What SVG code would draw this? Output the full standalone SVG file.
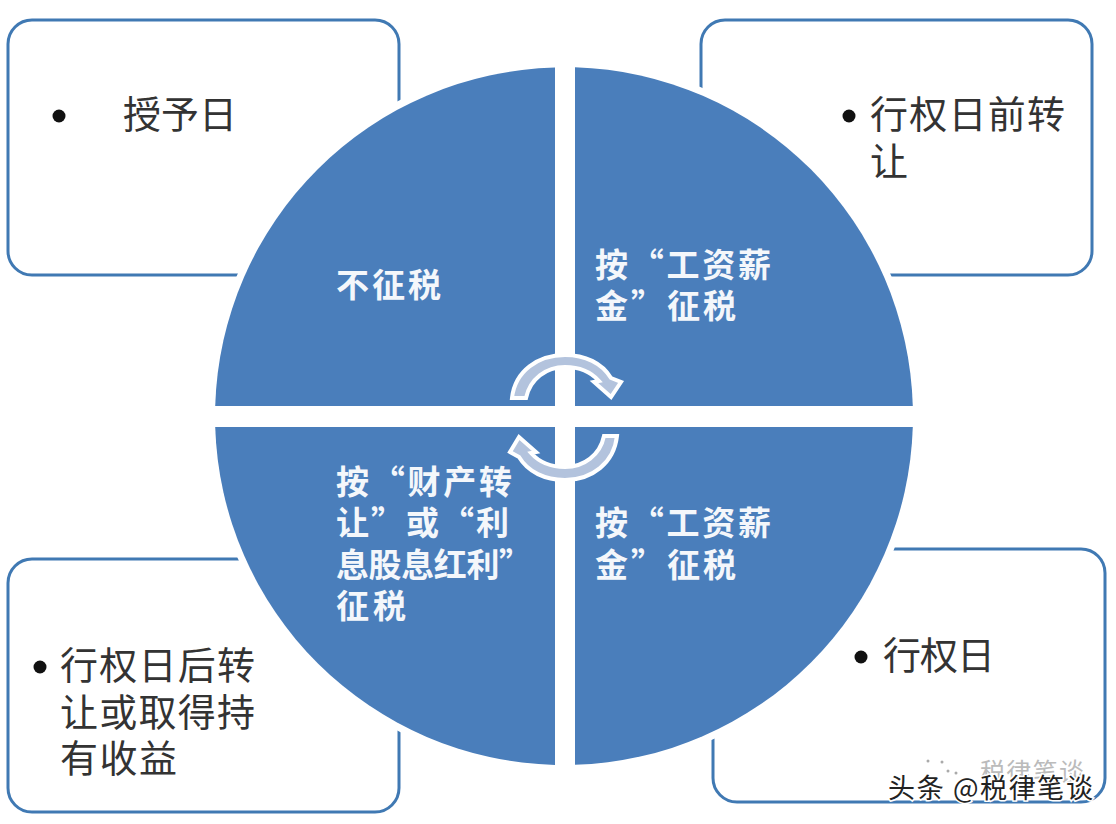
<svg xmlns="http://www.w3.org/2000/svg" width="1116" height="824" viewBox="0 0 1116 824">
<style>
.box{fill:#fff;stroke:#4079b3;stroke-width:3}
.q{fill:#4a7ebb}
.t{font-family:"Noto Sans CJK SC","Liberation Sans",sans-serif;font-size:38px;fill:#333}
.w{font-family:"Noto Sans CJK SC","Liberation Sans",sans-serif;font-size:33px;font-weight:700;fill:#f4f7fb}
.b{fill:#111}
.arrow{fill:#b3c3dd;stroke:#fff;stroke-width:4;stroke-linejoin:miter}
.m{font-family:"Noto Sans CJK SC","Liberation Sans",sans-serif;font-size:27px;fill:#222;stroke:#fff;stroke-width:3;paint-order:stroke}
.m2{font-family:"Noto Sans CJK SC","Liberation Sans",sans-serif;font-size:25px;fill:#bbb}
.dot{fill:#aaa}
</style>
<rect width="1116" height="824" fill="#fff"/>
<g id="box-tl"><rect class="box" x="8" y="20" width="391" height="255" rx="24"/></g>
<g id="box-tr"><rect class="box" x="701" y="20" width="391" height="255" rx="24"/></g>
<g id="box-bl"><rect class="box" x="8" y="559" width="391" height="253" rx="24"/></g>
<g id="box-br"><rect class="box" x="713" y="549" width="392" height="253" rx="24"/></g>
<circle cx="564" cy="416" r="356" fill="#fff"/>
<g id="quad-tl"><path class="q" d="M555 67.6V406H215.2A349 349 0 0 1 555 67.6Z"/></g>
<g id="quad-tr"><path class="q" d="M575 67.2V406H912.8A349 349 0 0 0 575 67.2Z"/></g>
<g id="quad-bl"><path class="q" d="M555 427V764.9A349 349 0 0 1 215.2 427Z"/></g>
<g id="quad-br"><path class="q" d="M575 427V764.8A349 349 0 0 0 912.8 427Z"/></g>
<g id="connectors">
<path class="arrow" d="M512 398C515 371 538 355 565 355C585 355 602 363 611 378L621 382L611 397L594 382L599 381C591 372 579 367 565 367C546 367 530 379 526 398Z"/>
<path class="arrow" d="M617 436C614 463 592 480 565 480C545 480 528 472 519 457L510 452L519 437L536 452L531 453C539 462 551 467 565 467C584 467 600 455 604 436Z"/>
</g>
<g id="label-tl"><circle class="b" cx="59" cy="116" r="6.5"/><text class="t" x="123" y="128" textLength="114">授予日</text></g>
<g id="label-tr"><circle class="b" cx="849" cy="116" r="6.5"/><text class="t" x="870" y="128" textLength="195">行权日前转</text><text class="t" x="870" y="175">让</text></g>
<g id="label-bl"><circle class="b" cx="40" cy="667" r="6.5"/><text class="t" x="60" y="679" textLength="195">行权日后转</text><text class="t" x="60" y="726" textLength="195">让或取得持</text><text class="t" x="60" y="772" textLength="117">有收益</text></g>
<g id="label-br"><circle class="b" cx="861" cy="657" r="6.5"/><text class="t" x="883" y="669" textLength="112">行权日</text></g>
<g id="text-tl"><text class="w" x="336" y="297" textLength="105">不征税</text></g>
<g id="text-tr"><text class="w" x="595" y="277" textLength="176">按“工资薪</text><text class="w" x="595" y="318" textLength="141">金”征税</text></g>
<g id="text-br"><text class="w" x="595" y="535" textLength="176">按“工资薪</text><text class="w" x="595" y="577" textLength="141">金”征税</text></g>
<g id="text-bl"><text class="w" x="336" y="494" textLength="176">按“财产转</text><text class="w" x="336" y="535" textLength="173">让”或“利</text><text class="w" x="336" y="577" textLength="196">息股息红利”</text><text class="w" x="336" y="618" textLength="70">征税</text></g>
<g id="watermark"><circle class="dot" cx="928" cy="761" r="1.5"/><circle class="dot" cx="942" cy="762" r="1.5"/><circle class="dot" cx="948" cy="771" r="1.5"/><circle class="dot" cx="956" cy="773" r="1.5"/><circle class="dot" cx="940" cy="786" r="1.5"/><text class="m2" x="980" y="781" textLength="104">税律笔谈</text><text class="m" x="888" y="798" textLength="205">头条 @税律笔谈</text></g>
</svg>
